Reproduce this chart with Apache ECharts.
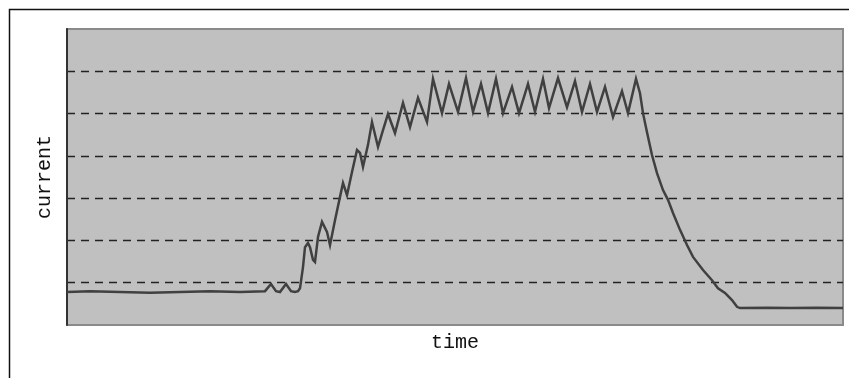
<!DOCTYPE html>
<html>
<head>
<meta charset="utf-8">
<script src="https://cdn.jsdelivr.net/npm/echarts@6/dist/echarts.min.js"></script>
<style>
  html, body { margin: 0; padding: 0; background: #fff; }
  #chart { width: 849px; height: 378px; }
</style>
</head>
<body>
<div id="chart"></div>
<script>
// time (sample index) and current readings
var timeData = [0, 23, 53, 83, 113, 143, 173, 198, 204, 209, 213, 219, 224, 228, 231, 233, 236, 238, 241, 243,
	246, 248, 251, 255, 260, 263, 268, 273, 276, 280, 285, 290, 293, 296, 301, 305, 311, 316, 321, 328,
	336, 343, 351, 360, 366, 375, 382, 391, 399, 406, 414, 421, 429, 436, 445, 452, 461, 468, 476, 482,
	491, 500, 508, 515, 523, 530, 538, 546, 555, 561, 569, 573, 576, 580, 585, 590, 596, 601, 606, 613,
	620, 626, 636, 645, 651, 658, 665, 670, 673, 700, 723, 750, 776];
var currentData = [0.78, 0.80, 0.78, 0.76, 0.78, 0.80, 0.78, 0.80, 0.97, 0.80, 0.78, 0.97, 0.80, 0.78, 0.80, 0.87, 1.37, 1.84, 1.94, 1.84,
	1.54, 1.49, 2.08, 2.44, 2.20, 1.89, 2.48, 3.03, 3.36, 3.07, 3.62, 4.14, 4.07, 3.74, 4.26, 4.80, 4.21, 4.61, 4.99, 4.54,
	5.25, 4.68, 5.37, 4.80, 5.82, 5.01, 5.70, 5.04, 5.84, 5.04, 5.70, 5.01, 5.82, 5.01, 5.63, 5.01, 5.70, 5.04, 5.82, 5.13,
	5.84, 5.15, 5.77, 5.04, 5.70, 5.04, 5.63, 4.92, 5.53, 5.01, 5.82, 5.48, 5.01, 4.56, 4.02, 3.59, 3.19, 2.96, 2.65, 2.25,
	1.89, 1.61, 1.30, 1.06, 0.87, 0.76, 0.59, 0.43, 0.40, 0.41, 0.40, 0.41, 0.40];

var chartObj = echarts.init(document.getElementById('chart'));

var points = [];
for (var i = 0; i < timeData.length; i++) {
	points.push([timeData[i], currentData[i]]);
}

var option = {
	backgroundColor: '#fff',
	animation: false,
	textStyle: { fontFamily: 'Liberation Mono' },
	//外框
	graphic: [{
		type: 'rect',
		shape: { x: 9.5, y: 9.5, width: 1000, height: 1000 },
		style: { fill: null, stroke: '#111', lineWidth: 1.5 },
		z: 100
	}],
	grid: {
		left: 67, top: 29, right: 6, bottom: 53,
		show: true,
		backgroundColor: '#c0c0c0',
		borderColor: '#8a8a8a',
		borderWidth: 2
	},
	xAxis: {
		type: 'value',
		min: 0, max: 776,
		name: 'time',
		nameLocation: 'middle',
		nameGap: 8,
		nameTextStyle: { fontSize: 20, color: '#111', fontFamily: 'Liberation Mono', verticalAlign: 'top' },
		axisLine: { show: false },
		axisTick: { show: false },
		axisLabel: { show: false },
		splitLine: { show: false }
	},
	yAxis: {
		type: 'value',
		min: 0, max: 7, interval: 1,
		name: 'current',
		nameLocation: 'middle',
		nameGap: 12,
		nameTextStyle: { fontSize: 20, color: '#111', fontFamily: 'Liberation Mono' },
		axisLine: { show: true, lineStyle: { color: '#333', width: 2 } },
		axisTick: { show: false },
		axisLabel: { show: false },
		splitLine: {
			show: true,
			showMinLine: false,
			showMaxLine: false,
			lineStyle: { color: '#222', type: [8, 6], dashOffset: 0, width: 1.3 }
		}
	},
	series: [{
		type: 'line',
		data: points,
		smooth: false,
		showSymbol: false,
		lineStyle: { color: '#404040', width: 2.5, join: 'miter' }
	}]
};
chartObj.setOption(option);
</script>
</body>
</html>
